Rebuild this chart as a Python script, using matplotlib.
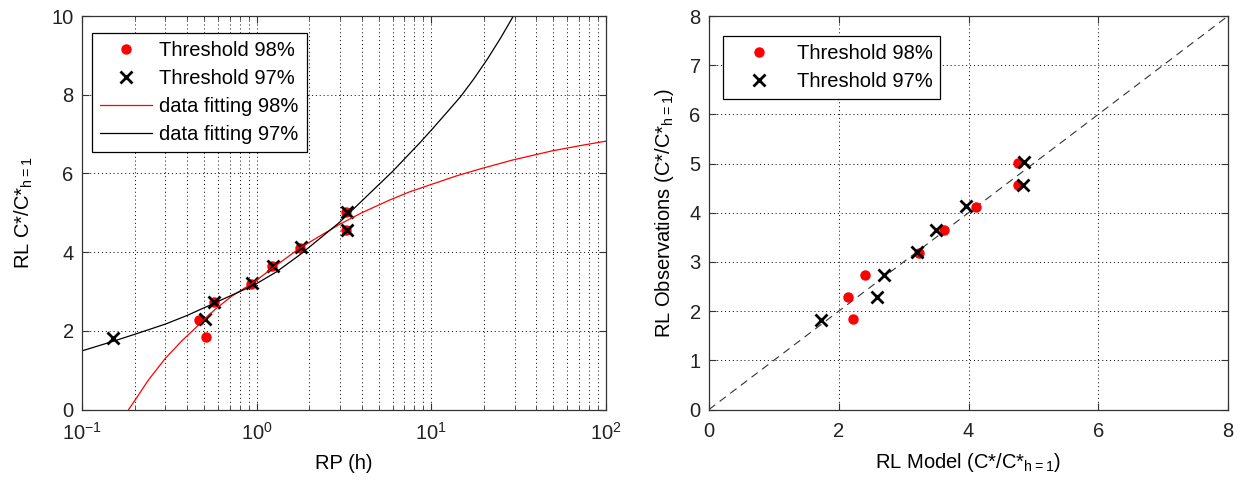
import matplotlib
matplotlib.use("Agg")
import matplotlib.pyplot as plt
from matplotlib.ticker import LogLocator, NullFormatter

plt.rcParams['font.family'] = ['Liberation Sans', 'DejaVu Sans']
plt.rcParams['mathtext.default'] = 'regular'
plt.rcParams['font.size'] = 14.5

# Left plot: observed points (return period vs ratio)
rp_98 = [0.51, 0.47, 0.57, 0.93, 1.23, 1.78, 3.26, 3.26]
obs_98 = [1.84, 2.28, 2.73, 3.19, 3.65, 4.11, 5.01, 4.57]
rp_97 = [0.15, 0.505, 0.57, 0.94, 1.24, 1.80, 3.30, 3.30]
obs_97 = [1.81, 2.29, 2.74, 3.21, 3.65, 4.13, 5.03, 4.57]

# Fitted curves
fit98_rp = [0.185, 0.21, 0.24, 0.3, 0.374, 0.466, 0.58, 0.72, 0.9, 1.0, 1.3,
            1.79, 2.97, 4.0, 5.75, 7.5, 10, 14, 19.6, 29.2, 48.9, 70, 100]
fit98_y = [0.0, 0.36, 0.75, 1.3, 1.75, 2.15, 2.55, 2.88, 3.15, 3.29, 3.67,
           4.12, 4.70, 5.00, 5.32, 5.53, 5.72, 5.94, 6.13, 6.34, 6.57, 6.70, 6.82]
fit97_rp = [0.1, 0.15, 0.2, 0.3, 0.4, 0.57, 0.9, 1.0, 1.3, 1.79, 2.97, 4.0,
            6.0, 8.69, 10, 12, 14.7, 17.5, 20.9, 25, 29.5, 32]
fit97_y = [1.49, 1.73, 1.91, 2.17, 2.39, 2.70, 3.10, 3.20, 3.50, 3.95, 4.75,
           5.30, 6.05, 6.80, 7.10, 7.50, 7.95, 8.40, 8.90, 9.45, 10.0, 10.3]

# Right plot: model vs observations
model_98 = [2.22, 2.14, 2.41, 3.24, 3.63, 4.11, 4.77, 4.77]
model_97 = [1.72, 2.59, 2.70, 3.20, 3.50, 3.96, 4.85, 4.84]
diag = [0, 8]

fig = plt.figure(figsize=(12.47, 4.82), dpi=100)
ax1 = fig.add_axes([82 / 1247, 1 - 409.5 / 482, 524 / 1247, 393.5 / 482])
ax2 = fig.add_axes([709 / 1247, 1 - 409.5 / 482, 519 / 1247, 393.5 / 482])

grid_style = dict(color='black', linestyle=(0, (1, 3)), linewidth=0.7)

# ---- left
ax1.plot(rp_98, obs_98, 'o', color='red', markersize=6.5, label='Threshold 98%')
ax1.plot(rp_97, obs_97, 'x', color='black', markersize=9, mew=2, label='Threshold 97%')
ax1.plot(fit98_rp, fit98_y, '-', color='red', linewidth=0.9, label='data fitting 98%')
ax1.plot(fit97_rp, fit97_y, '-', color='black', linewidth=0.9, label='data fitting 97%')
ax1.set_xscale('log')
ax1.set_xlim(0.1, 100)
ax1.set_ylim(0, 10)
ax1.set_yticks([0, 2, 4, 6, 8, 10])
ax1.xaxis.set_minor_locator(LogLocator(base=10, subs=range(2, 10)))
ax1.xaxis.set_minor_formatter(NullFormatter())
ax1.grid(True, which='major', **grid_style)
ax1.grid(True, which='minor', axis='x', **grid_style)
ax1.set_xlabel('RP (h)', labelpad=7)
ax1.set_ylabel('RL C*/C*$_{h=1}$', labelpad=12)
leg1 = ax1.legend(loc='upper left', bbox_to_anchor=(0.019, 0.957), borderaxespad=0,
                  fancybox=False, edgecolor='black', framealpha=1,
                  handlelength=2.6, handletextpad=0.35, borderpad=0.4,
                  labelspacing=0.45, fontsize=14.5)
leg1.get_frame().set_linewidth(0.9)

# ---- right
ax2.plot(diag, diag, color='#333333', linestyle=(0, (7, 5)), linewidth=0.8)
ax2.plot(model_98, obs_98, 'o', color='red', markersize=6.5, label='Threshold 98%')
ax2.plot(model_97, obs_97, 'x', color='black', markersize=9, mew=2, label='Threshold 97%')
ax2.set_xlim(0, 8)
ax2.set_ylim(0, 8)
ax2.set_xticks([0, 2, 4, 6, 8])
ax2.set_yticks(range(0, 9))
ax2.grid(True, **grid_style)
ax2.set_xlabel('RL Model (C*/C*$_{h=1}$)', labelpad=7)
ax2.set_ylabel('RL Observations (C*/C*$_{h=1}$)', labelpad=10)
leg2 = ax2.legend(loc='upper left', bbox_to_anchor=(0.027, 0.949), borderaxespad=0,
                  fancybox=False, edgecolor='black', framealpha=1,
                  handlelength=2.8, handletextpad=0.45, borderpad=0.4,
                  labelspacing=0.45, fontsize=14.5)
leg2.get_frame().set_linewidth(0.9)

for ax in (ax1, ax2):
    ax.set_axisbelow(True)
    ax.tick_params(which='both', direction='in', top=True, right=True,
                   color='#333333', labelcolor='#222222')
    ax.tick_params(which='major', length=5)
    ax.tick_params(which='minor', length=3)
    ax.tick_params(axis='x', which='both', pad=9)
    ax.tick_params(axis='y', which='both', pad=6)
    for s in ax.spines.values():
        s.set_color('#333333')
        s.set_linewidth(0.9)

fig.savefig('out.png', dpi=100)
